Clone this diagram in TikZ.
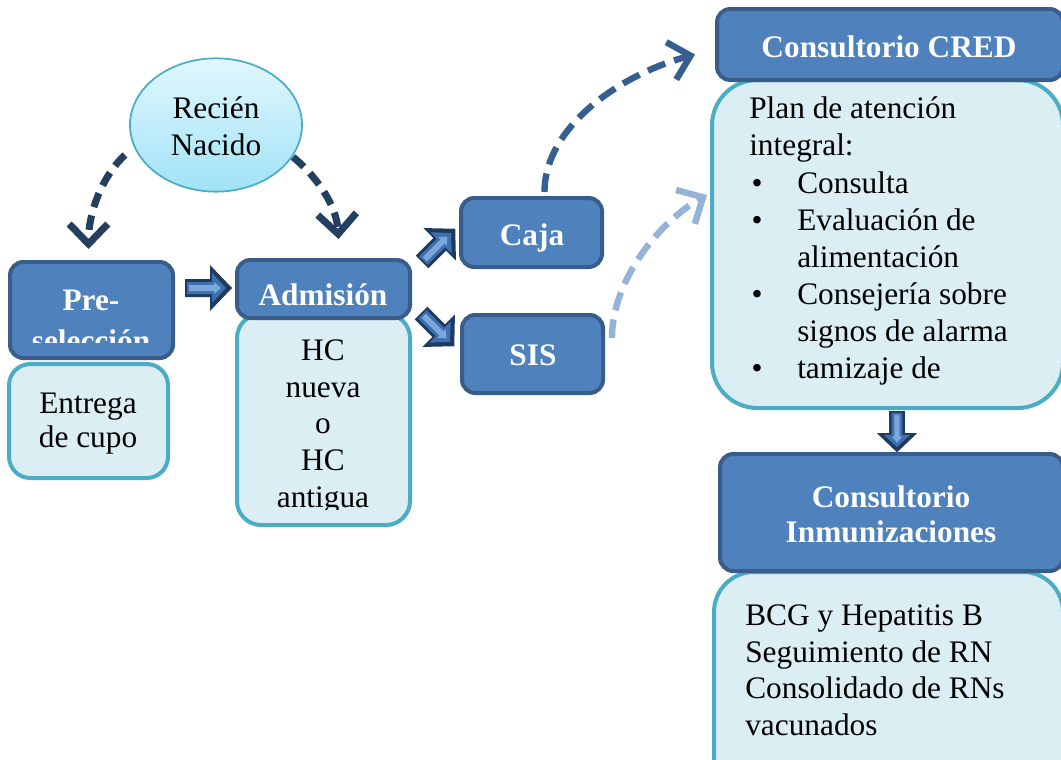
\documentclass[tikz,border=0pt]{standalone}
\usepackage{fontspec}
\setmainfont{Liberation Serif}
\usetikzlibrary{shapes.geometric,arrows.meta,fit,calc}
\definecolor{hdrfill}{HTML}{4F81BD}
\definecolor{hdrdraw}{HTML}{385D8A}
\definecolor{bodyfill}{HTML}{DAEEF3}
\definecolor{bodydraw}{HTML}{4BACC6}
\definecolor{elltop}{HTML}{E2F7FD}
\definecolor{ellbot}{HTML}{A0E3F7}
\definecolor{dashA}{HTML}{243F60}
\definecolor{dashB}{HTML}{365F91}
\definecolor{dashC}{HTML}{95B3D7}
\definecolor{arrdark}{HTML}{1F3A5F}
\definecolor{arrmid}{HTML}{3F6FAE}
\definecolor{arrlight}{HTML}{7AA7DD}
\newcommand\txtsize{\fontsize{23.5}{27.5}\selectfont}
\begin{document}
\begin{tikzpicture}[x=0.75pt,y=-0.75pt,
  hdr/.style={draw=hdrdraw, fill=hdrfill, line width=3pt, rounded corners=10pt, inner sep=0pt},
  bodybox/.style={draw=bodydraw, fill=bodyfill, line width=3pt, rounded corners=#1, inner sep=0pt},
  bodybox/.default=16pt,
  btxt/.style={font=\txtsize, text=black, inner sep=0pt},
  htxt/.style={font=\txtsize\bfseries, text=white, inner sep=0pt},
  dashcon/.style={line width=5.3pt, dash pattern=on 11pt off 6.5pt,
     -{Straight Barb[length=15pt,width=29pt]}},
  blockarr/.pic={
     \fill[arrdark] (0,-9)--(25,-9)--(25,-23)--(47,0)--(25,23)--(25,9)--(0,9)--cycle;
     \fill[arrmid] (2,-6)--(27,-6)--(27,-15)--(41,0)--(27,15)--(27,6)--(2,6)--cycle;
     \fill[arrlight] (4,-3)--(29,-3)--(29,-6)--(36,0)--(29,6)--(29,3)--(4,3)--cycle;}
]
\useasboundingbox (0,0) rectangle (1061,760);

% ellipse
\node[ellipse, draw=bodydraw, line width=1.3pt, top color=elltop, bottom color=ellbot,
      minimum width=129pt, minimum height=100pt] (rn) at (216,125) {};
\node[btxt, anchor=base] (rn1) at (216,118) {Recién};
\node[btxt, anchor=base] (rn2) at (216,155) {Nacido};

% Pre-seleccion
\node[bodybox, fit={(9,364) (168,478)}] (preb) {};
\node[hdr, fit={(10,262) (173,358)}] (pre) {};
\node[htxt, anchor=base] (pre1) at (91,310) {Pre-};
\begin{scope}
  \clip (10,262) rectangle (173,342);
  \node[htxt, anchor=base] (pre2) at (91,351) {selección};
\end{scope}
\node[btxt, anchor=base] (preb1) at (88,413) {Entrega};
\node[btxt, anchor=base] (preb2) at (88,447) {de cupo};

% Admision
\node[bodybox=18pt, fit={(237,314) (410,525)}] (admb) {};
\node[hdr, fit={(237,260) (410,318)}] (adm) {};
\node[htxt, anchor=base] (adm1) at (323,305) {Admisión};
\begin{scope}
  \clip (237,320) rectangle (410,509);
  \foreach \t/\yy [count=\i] in {HC/360, nueva/397, o/433, HC/470, antigua/507}
    \node[btxt, anchor=base] (admb\i) at (323,\yy) {\t};
\end{scope}

% Caja, SIS
\node[hdr, fit={(461,198) (602,267)}] (caja) {};
\node[htxt, anchor=base] (caja1) at (532,245) {Caja};
\node[hdr, fit={(462,315) (603,393)}] (sis) {};
\node[htxt, anchor=base] (sis1) at (533,365) {SIS};

% CRED
\node[bodybox=34pt, fit={(712,80) (1063,408)}] (credb) {};
\node[hdr, fit={(717,9) (1063,80)}] (cred) {};
\node[htxt, anchor=base] (cred1) at (889,57) {Consultorio CRED};
\node[btxt, anchor=base west] (cl1) at (749,118) {Plan de atención};
\node[btxt, anchor=base west] (cl2) at (749,155) {integral:};
\begin{scope}
  \clip (712,60) rectangle (1063,384);
  \foreach \b/\t/\yy [count=\i] in {•/Consulta/193, •/Evaluación de/230, /alimentación/267,
      •/Consejería sobre/304, /signos de alarma/341, •/tamizaje de/378}{
    \node[btxt, anchor=base] (cb\i) at (757,\yy) {\b};
    \node[btxt, anchor=base west] (ct\i) at (797,\yy) {\t};
  }
\end{scope}

% Inmunizaciones
\node[bodybox=30pt, fit={(714,572) (1063,800)}] (inmb) {};
\node[hdr, fit={(720,454) (1063,571)}] (inm) {};
\node[htxt, anchor=base] (inm1) at (891,507) {Consultorio};
\node[htxt, anchor=base] (inm2) at (891,542) {Inmunizaciones};
\foreach \t/\yy [count=\i] in {BCG y Hepatitis B/625, Seguimiento de RN/662,
    Consolidado de RNs/698, vacunados/735}
  \node[btxt, anchor=base west] (il\i) at (745,\yy) {\t};

% block arrows
\pic (a1) at (185,288) {blockarr};
\pic[rotate=45] (a2) at (422,262) {blockarr};
\pic[rotate=-45] (a3) at (421,313) {blockarr};
\pic[rotate=-90, scale=0.88] (a4) at (897,411) {blockarr};

% dashed curved connectors
\draw[dashcon, draw=dashA] ($(rn.center)+(-91,30)$) .. controls +(-20,18) and +(0,-40) .. ($(pre.north)+(-3,-11)$);
\draw[dashcon, draw=dashA] ($(rn.center)+(77,32)$) .. controls +(22,18) and +(-2,-35) .. ($(adm.north)+(15,-19)$);
\draw[dashcon, draw=dashB, line width=4.8pt, dash pattern=on 14pt off 7pt]
  ($(caja.north)+(13,-4)$) .. controls +(0,-65) and +(-75,20) .. ($(cred.west)+(-20,10)$);
\draw[dashcon, draw=dashC, line width=4.8pt, dash pattern=on 14pt off 7pt]
  ($(sis.north east)+(7,25)$) .. controls +(0,-60) and +(-45,25) .. ($(credb.west)+(-3,-49)$);
\end{tikzpicture}
\end{document}
